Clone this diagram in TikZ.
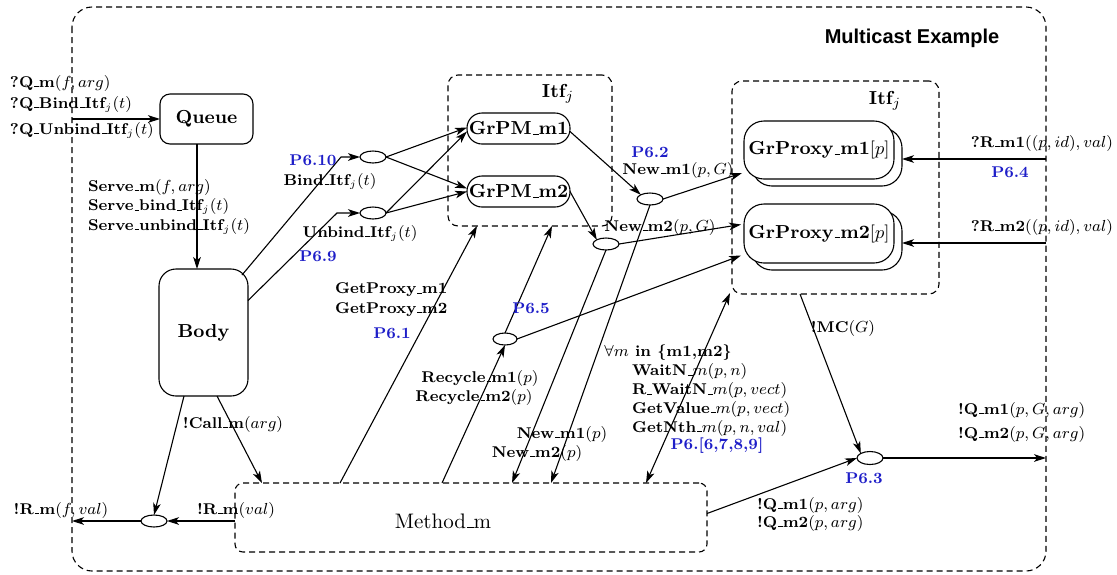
\documentclass[tikz,border=0pt]{standalone}
\usepackage{fontspec}
\newfontfamily\hfont{Liberation Sans}
\usetikzlibrary{arrows.meta,shapes.geometric,shadows}
\definecolor{pblue}{RGB}{30,30,200}
\newcommand{\usc}{\leavevmode\kern.06em\vbox{\hrule width.3em height .45pt}}
\begin{document}
\begin{tikzpicture}[x=0.5pt,y=-0.5pt,line width=0.55pt,
  every node/.style={inner sep=0pt,outer sep=0pt},
  lbl/.style={font=\fontsize{7.8}{9.75}\selectfont\bfseries},
  plbl/.style={font=\fontsize{7.8}{9.75}\selectfont\bfseries,text=pblue},
  nbox/.style={draw,rounded corners=#1,font=\fontsize{9.4}{11}\selectfont\bfseries},
  ell/.style={draw,ellipse,minimum width=13pt,minimum height=6pt},
  dsh/.style={dash pattern=on 3pt off 2pt},
  cont/.style={draw,dsh,rounded corners=5pt},
  tip/.tip={Stealth[length=6pt,width=3.8pt,inset=1.6pt]},
  arr/.style={-tip}]
\useasboundingbox (0,0) rectangle (1117,574);
% frame
\draw[dsh,rounded corners=10pt] (72,7) rectangle (1046,571);
\node[font=\hfont\bfseries\fontsize{10}{12}\selectfont] (title) at (912,38) {Multicast Example};
% containers
\node[cont,minimum width=82pt,minimum height=75.5pt] (itfL) at (530,150.5) {};
\node[cont,minimum width=103.5pt,minimum height=106.5pt] (itfR) at (835.5,187.5) {};
\node[font=\fontsize{9.4}{11}\selectfont\bfseries] (itfLl) at (558,94) {Itf$_j$};
\node[font=\fontsize{9.4}{11}\selectfont\bfseries] (itfRl) at (885,101) {Itf$_j$};
\node[cont,rounded corners=4pt,minimum width=236pt,minimum height=34.5pt,
  label={[xshift=-14pt,yshift=-1.75pt,font=\fontsize{10.5}{12}\selectfont]center:Method\usc m}] (method) at (471,517.5) {};
% nodes
\node[nbox=5pt,minimum width=46.5pt,minimum height=25pt] (queue) at (206.5,119) {Queue};
\node[nbox=8.5pt,minimum width=44.5pt,minimum height=63.5pt] (body) at (203.5,332.5) {Body};
\node[nbox=7.5pt,minimum width=51.5pt,minimum height=15.5pt] (grpm1) at (518.5,128.5) {GrPM\usc m1};
\node[nbox=7.5pt,minimum width=51.5pt,minimum height=15.5pt] (grpm2) at (518.5,191.5) {GrPM\usc m2};
\node[nbox=10pt,fill=white,minimum width=75pt,minimum height=29pt,
  copy shadow={shadow xshift=4pt,shadow yshift=-3.5pt,fill=white,draw=black}] (gp1) at (819,150) {GrProxy\usc m1$[p]$};
\node[nbox=10pt,fill=white,minimum width=75pt,minimum height=29.5pt,
  copy shadow={shadow xshift=4pt,shadow yshift=-3.5pt,fill=white,draw=black}] (gp2) at (819,233.5) {GrProxy\usc m2$[p]$};
% ovals
\node[ell] (bindO) at (373,157) {};
\node[ell] (unbindO) at (373,213) {};
\node[ell] (p62O) at (650,199) {};
\node[ell] (newm2O) at (606,244) {};
\node[ell,minimum width=12pt] (p65O) at (505,339) {};
\node[ell,minimum height=6.5pt] (p63O) at (870,458) {};
\node[ell] (rmO) at (154,521) {};
% free ends
\coordinate (qin) at (72,119);
\coordinate (r1) at (1046,159);
\coordinate (r2) at (1046,243);
\coordinate (qout) at (1046,458);
\coordinate (rout) at (72,521);
% connectors
\draw[arr] (qin) -- (queue.west);
\draw[arr] ([xshift=-4.75pt]queue.south) -- ([xshift=-3.25pt]body.north);
\draw[arr] ([shift={(-3pt,-3pt)}]body.north east) -- (341,157) -- (bindO.west);
\draw[arr] ([yshift=16pt]body.east) -- (337,213) -- (unbindO.west);
\draw[arr] (bindO.east) -- ([yshift=0.5pt]grpm1.west);
\draw[arr] (bindO.east) -- ([yshift=1.5pt]grpm2.west);
\draw[arr] (unbindO.east) -- ([yshift=-1.5pt]grpm1.west);
\draw[arr] (unbindO.east) -- (grpm2.west);
\draw[arr] ([yshift=-1.5pt]grpm1.east) -- (p62O.north west);
\draw[arr] (grpm2.east) -- (newm2O.north west);
\draw[arr] (p62O.east) -- ([shift={(-1pt,3pt)}]gp1.south west);
\draw[arr] (newm2O.east) -- ([shift={(-1.5pt,4.5pt)}]gp2.west);
\draw[arr] (p65O.east) -- ([shift={(-1.5pt,-11pt)}]gp2.west);
\draw[arr] (r1) -- ([shift={(4pt,-4.5pt)}]gp1.east);
\draw[arr] (r2) -- ([shift={(4pt,-4.75pt)}]gp2.east);
\draw[arr] ([xshift=34pt]itfR.south west) -- (p63O.north west);
\draw[arr] (p63O.east) -- (qout);
\draw[arr] ([yshift=2pt]method.east) -- (p63O.west);
\draw[tip-tip] ([xshift=205.5pt]method.north west) -- ([shift={(-1pt,0.5pt)}]itfR.south west);
\draw[arr] ([xshift=52.5pt]method.north west) -- ([xshift=14.5pt]itfL.south west);
\draw[arr] ([xshift=103.5pt]method.north west) -- (p65O.south);
\draw[arr] (p65O.north) -- ([xshift=52pt]itfL.south west);
\draw[arr] (newm2O.south) -- ([xshift=138.5pt]method.north west);
\draw[arr] (p62O.south) -- ([xshift=158pt]method.north west);
\draw[arr] ([xshift=-9.75pt]body.south) -- (rmO.north);
\draw[arr] ([xshift=6.75pt]body.south) -- ([xshift=13.5pt]method.north west);
\draw[arr] ([yshift=-1.75pt]method.west) -- (rmO.east);
\draw[arr] (rmO.west) -- (rout);
% labels
\node[lbl,anchor=west] (l1) at (10,83) {?Q\usc m$(f,arg)$};
\node[lbl,anchor=west] (l2) at (10,104) {?Q\usc Bind\usc Itf$_j(t)$};
\node[lbl,anchor=west] (l3) at (10,130) {?Q\usc Unbind\usc Itf$_j(t)$};
\node[lbl,anchor=west,align=left] (l4) at (88,206.5) {Serve\usc m$(f,arg)$\\Serve\usc bind\usc Itf$_j(t)$\\Serve\usc unbind\usc Itf$_j(t)$};
\node[plbl] (p610) at (313,160) {P6.10};
\node[lbl] (l5) at (330,181) {Bind\usc Itf$_j(t)$};
\node[lbl] (l6) at (360,233) {Unbind\usc Itf$_j(t)$};
\node[plbl] (p69) at (318,256) {P6.9};
\node[plbl] (p62) at (650,152) {P6.2};
\node[lbl] (l7) at (678,170) {New\usc m1$(p,G)$};
\node[lbl] (l8) at (660,227) {New\usc m2$(p,G)$};
\node[lbl,anchor=east] (l9) at (1113,143) {?R\usc m1$((p,id),val)$};
\node[plbl] (p64) at (1010,172) {P6.4};
\node[lbl,anchor=east] (l10) at (1113,227) {?R\usc m2$((p,id),val)$};
\node[lbl,anchor=west,align=left] (l11) at (335,299.5) {GetProxy\usc m1\\GetProxy\usc m2};
\node[plbl] (p61) at (392,333) {P6.1};
\node[plbl] (p65) at (531,308) {P6.5};
\node[lbl] (l12) at (480,378) {Recycle\usc m1$(p)$};
\node[lbl] (l13) at (474,397) {Recycle\usc m2$(p)$};
\node[lbl] (l14) at (562,434) {New\usc m1$(p)$};
\node[lbl] (l15) at (537,453) {New\usc m2$(p)$};
\node[lbl] (l16) at (668,353) {$\forall m$ in \{m1,m2\}};
\node[lbl,anchor=west,align=left,font=\fontsize{7.8}{9.35}\selectfont\bfseries] (l17) at (632,400) {WaitN\usc$m(p,n)$\\R\usc WaitN\usc$m(p,vect)$\\GetValue\usc$m(p,vect)$\\GetNth\usc$m(p,n,val)$};
\node[plbl] (p6x) at (717,446) {P6.[6,7,8,9]};
\node[lbl] (l18) at (843,328) {!MC$(G)$};
\node[lbl,anchor=west] (l19) at (958,410) {!Q\usc m1$(p,G,arg)$};
\node[lbl,anchor=west] (l20) at (958,434) {!Q\usc m2$(p,G,arg)$};
\node[plbl] (p63) at (864,478) {P6.3};
\node[lbl,anchor=west] (l21) at (757,505) {!Q\usc m1$(p,arg)$};
\node[lbl,anchor=west] (l22) at (757,523) {!Q\usc m2$(p,arg)$};
\node[lbl] (l23) at (61,510) {!R\usc m$(f,val)$};
\node[lbl] (l24) at (236,510) {!R\usc m$(val)$};
\node[lbl] (l25) at (233,424) {!Call\usc m$(arg)$};
\end{tikzpicture}
\end{document}
